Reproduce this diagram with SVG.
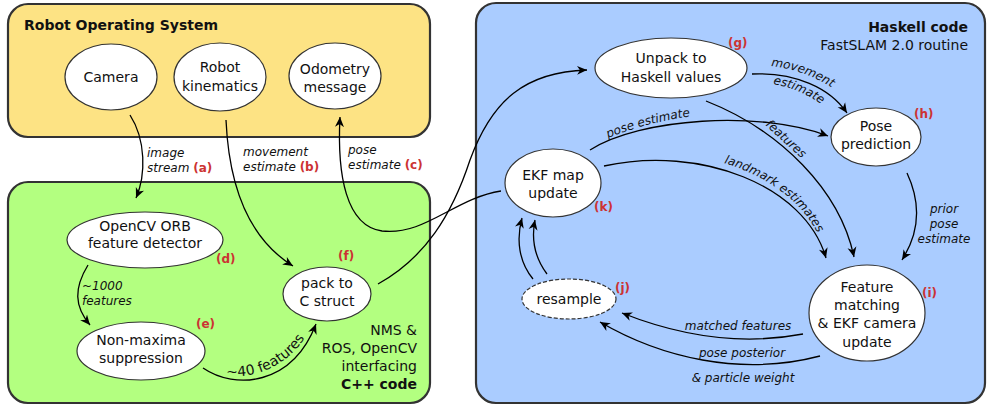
<svg xmlns="http://www.w3.org/2000/svg" width="987" height="405" viewBox="0 0 987 405">
<defs>
<style>
.box{stroke:#333;stroke-width:2.2}
.node{fill:#fff;stroke:#333;stroke-width:1.2}
.t{font-family:"DejaVu Sans",Verdana,sans-serif;font-size:14px;fill:#111}
.m{text-anchor:middle}
.e{font-family:"DejaVu Sans",Verdana,sans-serif;font-size:12px;font-style:italic;fill:#111}
.r{font-family:"DejaVu Sans",Verdana,sans-serif;font-size:12px;font-weight:bold;font-style:normal;fill:#cc3333}
.b{font-weight:bold}
.c{fill:none;stroke:#000;stroke-width:1.3;marker-end:url(#ah)}
</style>
<marker id="ah" markerUnits="userSpaceOnUse" markerWidth="12" markerHeight="10" refX="10" refY="5" orient="auto">
<path d="M0,0.5 L10,5 L0,9.5 L3,5 z" fill="#000"/>
</marker>
<path id="p40" d="M226,376 C258,379 290,364 308,333"/>
<path id="pmov" d="M771,66 Q807,70 837,91"/>
<path id="pest" d="M773,84 Q802,89 825,107"/>
<path id="ppose" d="M608,138 Q650,121 700,115"/>
<path id="pfeat" d="M765,125 L807,163"/>
<path id="plm" d="M724,163 C770,177 807,204 823,245"/>
</defs>

<g id="ros">
<rect class="box" x="8" y="4" width="422" height="133" rx="20" fill="#fde384"/>
<text class="t b" x="24" y="30">Robot Operating System</text>
</g>
<g id="cpp">
<rect class="box" x="8" y="182" width="422" height="221" rx="20" fill="#b3ff80"/>
<text class="t" x="417" y="335" text-anchor="end">NMS &amp;</text>
<text class="t" x="417" y="353" text-anchor="end">ROS, OpenCV</text>
<text class="t" x="417" y="371" text-anchor="end">interfacing</text>
<text class="t b" x="417" y="389" text-anchor="end">C++ code</text>
</g>
<g id="haskell">
<rect class="box" x="476" y="3" width="509" height="400" rx="20" fill="#aaccff"/>
<text class="t b" x="968" y="32" text-anchor="end">Haskell code</text>
<text class="t" x="968" y="50" text-anchor="end">FastSLAM 2.0 routine</text>
</g>

<g id="camera">
<ellipse class="node" cx="111" cy="77" rx="46" ry="33"/>
<text class="t m" x="111" y="82">Camera</text>
</g>
<g id="kinematics">
<ellipse class="node" cx="220" cy="77" rx="46" ry="34"/>
<text class="t m" x="220" y="72">Robot</text>
<text class="t m" x="220" y="91">kinematics</text>
</g>
<g id="odometry">
<ellipse class="node" cx="335" cy="76" rx="46" ry="33"/>
<text class="t m" x="335" y="74">Odometry</text>
<text class="t m" x="335" y="92">message</text>
</g>
<g id="orb">
<ellipse class="node" cx="145" cy="240" rx="78" ry="28"/>
<text class="t m" x="145" y="231">OpenCV ORB</text>
<text class="t m" x="145" y="248">feature detector</text>
<text class="r" x="216" y="263">(d)</text>
</g>
<g id="nms">
<ellipse class="node" cx="141" cy="351" rx="64" ry="29"/>
<text class="t m" x="141" y="345">Non-maxima</text>
<text class="t m" x="141" y="363">suppression</text>
<text class="r" x="196" y="328">(e)</text>
</g>
<g id="pack">
<ellipse class="node" cx="327" cy="294" rx="44" ry="27"/>
<text class="t m" x="327" y="288">pack to</text>
<text class="t m" x="327" y="306">C struct</text>
<text class="r" x="338" y="260">(f)</text>
</g>
<g id="unpack">
<ellipse class="node" cx="671" cy="68" rx="76" ry="30"/>
<text class="t m" x="671" y="63">Unpack to</text>
<text class="t m" x="671" y="82">Haskell values</text>
<text class="r" x="728" y="47">(g)</text>
</g>
<g id="pose">
<ellipse class="node" cx="876" cy="137" rx="45" ry="29"/>
<text class="t m" x="876" y="131">Pose</text>
<text class="t m" x="876" y="149">prediction</text>
<text class="r" x="914" y="118">(h)</text>
</g>
<g id="ekf">
<ellipse class="node" cx="553" cy="183" rx="48" ry="34"/>
<text class="t m" x="553" y="180">EKF map</text>
<text class="t m" x="553" y="198">update</text>
<text class="r" x="594" y="211">(k)</text>
</g>
<g id="resample">
<ellipse class="node" cx="569" cy="299" rx="47" ry="20" stroke-dasharray="4,2"/>
<text class="t m" x="569" y="304">resample</text>
<text class="r" x="615" y="292">(j)</text>
</g>
<g id="feature">
<ellipse class="node" cx="867" cy="313" rx="58" ry="48"/>
<text class="t m" x="867" y="292">Feature</text>
<text class="t m" x="867" y="310">matching</text>
<text class="t m" x="867" y="328">&amp; EKF camera</text>
<text class="t m" x="867" y="347">update</text>
<text class="r" x="922" y="297">(i)</text>
</g>

<g id="connectors">
<path class="c" d="M130,115 C146,140 146,175 136,198"/>
<path class="c" d="M226,120 C228,165 238,232 293,266"/>
<path class="c" d="M501,191 C455,198 425,236 382,231 C346,226 337,175 340,117"/>
<path class="c" d="M378,284 C425,258 452,215 470,160 C492,100 525,72 587,70"/>
<path class="c" d="M88,265 C74,288 74,306 90,325"/>
<path class="c" d="M203,368 C235,390 292,386 316,324"/>
<path class="c" d="M752,74 C795,72 830,88 847,113"/>
<path class="c" d="M590,150 C640,118 760,110 828,136"/>
<path class="c" d="M706,101 C780,130 840,190 854,257"/>
<path class="c" d="M604,166 C700,145 805,185 826,258"/>
<path class="c" d="M907,173 C922,205 918,235 902,260"/>
<path class="c" d="M803,334 C740,346 680,336 622,313"/>
<path class="c" d="M820,356 C740,377 660,357 600,322"/>
<path class="c" d="M533,279 C519,262 516,240 522,218"/>
<path class="c" d="M547,274 C535,258 531,240 535,220"/>

<text class="e" x="147" y="157">image</text>
<text class="e" x="147" y="172">stream <tspan class="r">(a)</tspan></text>
<text class="e" x="243" y="156">movement</text>
<text class="e" x="243" y="171">estimate <tspan class="r">(b)</tspan></text>
<text class="e" x="348" y="154">pose</text>
<text class="e" x="348" y="169">estimate <tspan class="r">(c)</tspan></text>
<text class="e" x="82" y="290">~1000</text>
<text class="e" x="82" y="305">features</text>
<text class="t" font-size="13"><textPath href="#p40">~40 features</textPath></text>
<text class="e"><textPath href="#pmov">movement</textPath></text>
<text class="e"><textPath href="#pest">estimate</textPath></text>
<text class="e"><textPath href="#ppose">pose estimate</textPath></text>
<text class="e"><textPath href="#pfeat">features</textPath></text>
<text class="e"><textPath href="#plm">landmark estimates</textPath></text>
<text class="e m" x="944" y="213">prior</text>
<text class="e m" x="944" y="228">pose</text>
<text class="e m" x="944" y="243">estimate</text>
<text class="e m" x="738" y="330">matched features</text>
<text class="e m" x="742" y="357">pose posterior</text>
<text class="e m" x="743" y="382">&amp; particle weight</text>
</g>
</svg>
